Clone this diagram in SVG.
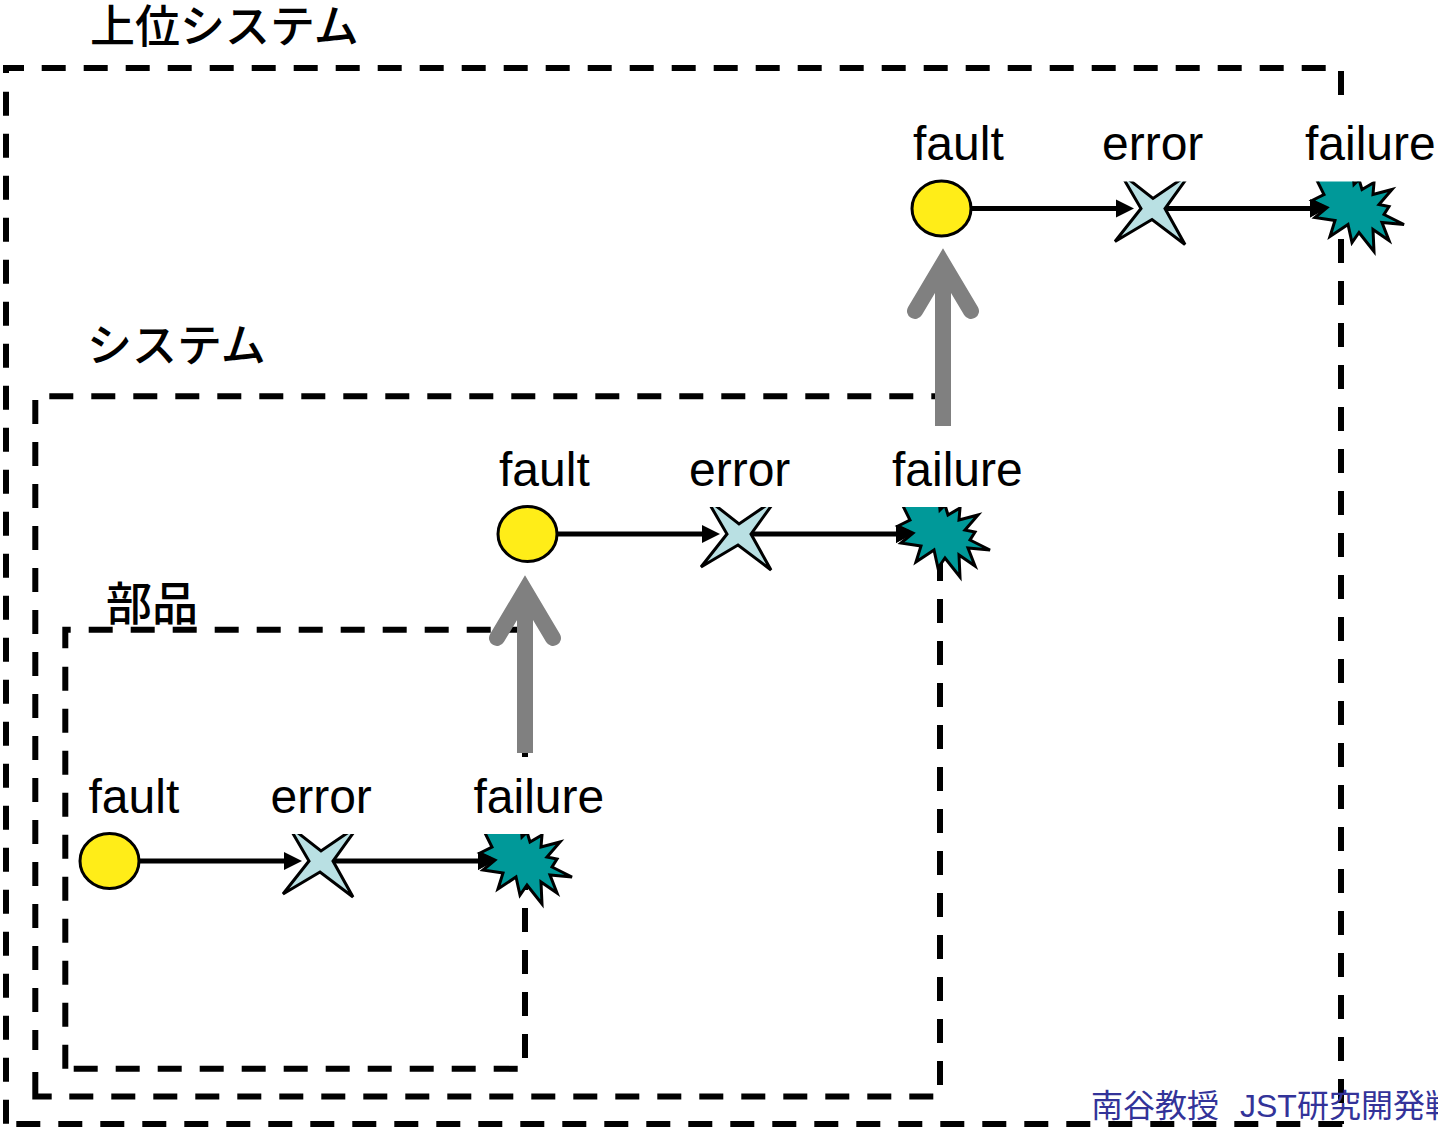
<svg xmlns="http://www.w3.org/2000/svg" width="1438" height="1127" viewBox="0 0 1438 1127">
<style>
.box{fill:none;stroke:#000;stroke-width:6;stroke-dasharray:24 18}
.c{fill:none;stroke:#000;stroke-width:6}
.t{font-family:"Liberation Sans",Arial,sans-serif;font-size:48px;fill:#000}
.j{font-family:"Noto Sans CJK JP",sans-serif;font-size:45px;font-weight:500;fill:#000}
.b{font-family:"Liberation Sans","Noto Sans CJK JP",sans-serif;font-size:32px;fill:#333399}
.ln{fill:none;stroke:#000;stroke-width:5}
.gr{fill:none;stroke:#808080;stroke-width:16;stroke-linecap:round;stroke-linejoin:miter}
.sh{fill:none;stroke:#808080;stroke-width:16}
.o{stroke:#000;stroke-width:3}
</style>
<defs>
<clipPath id="cl"><rect x="60" y="834" width="560" height="90"/></clipPath>
<g id="triple">
<ellipse class="o" cx="109.500" cy="861" rx="29.500" ry="27.500" fill="#ffed18"/>
<path class="ln" d="M139 861H286"/>
<path d="M284 852L302 861L284 870Z"/>
<path class="ln" d="M333 861H480"/>
<path d="M478 852L497 860L478 870Z"/>
<g clip-path="url(#cl)">
<polygon class="o" fill="#b9e0e3" points="288,825 321,851 359,825 333,861 353,897 320,872 283,894 309,861"/>
<polygon class="o" fill="#009999" points="480,853 492,847 484,831 500,825 521,825 522,837 527,832 530,842 542,835 541,847 560,842 547,857 557,859 552,867 572,877 550,875 557,893 541,882 542,904 527,885 520,895 516,877 498,889 503,873 483,870 495,860"/>
</g>
<path d="M478 852L491 857L494 860L478 870Z"/>
</g>
</defs>
<g id="outer-box">
<path class="c" d="M6 73V68H24"/>
<path class="box" d="M41.700 68H1326"/>
<path class="box" d="M6 91.700V1124"/>
<path class="box" d="M16.300 1124H1342.300"/>
<path class="box" d="M1341 71V1124"/>
</g>
<g id="system-box">
<path class="box" d="M49.300 396.300H940"/>
<path class="box" d="M35.300 400V1050"/>
<path class="c" d="M35.300 1072V1096.500H51.700"/>
<path class="box" d="M69.300 1096.500H933.300"/>
<path class="box" d="M940 1085V389"/>
</g>
<g id="part-box">
<path class="c" d="M65.300 648.300V629.700H70.700"/>
<path class="box" d="M88.700 629.700H525"/>
<path class="box" d="M65.300 666.700V1068.700"/>
<path class="box" d="M73.700 1068.800H517.700"/>
<path class="box" d="M525 1058V630"/>
</g>
<g id="label-masks" fill="#fff">
<rect x="1300" y="100" width="138" height="81"/>
<rect x="885" y="427" width="145" height="80"/>
<rect x="468" y="757" width="145" height="77"/>
</g>
<g id="connectors">
<path class="sh" d="M525 753V600"/>
<path class="gr" d="M497 638L525 591L553 638"/>
<path class="sh" d="M943 426V270"/>
<path class="gr" d="M915 311L943 264L971 311"/>
</g>
<g id="row-1"><use href="#triple"/>
<text class="t" x="88.500" y="813">fault</text><text class="t" x="270.500" y="813">error</text><text class="t" x="473.500" y="813">failure</text></g>
<g id="row-2"><use href="#triple" x="418" y="-327"/>
<text class="t" x="499" y="486">fault</text><text class="t" x="689" y="486">error</text><text class="t" x="892" y="486">failure</text></g>
<g id="row-3"><use href="#triple" x="832" y="-652.500"/>
<text class="t" x="913" y="160">fault</text><text class="t" x="1102" y="160">error</text><text class="t" x="1305" y="160">failure</text></g>
<g id="labels">
<text class="j" x="90" y="43">上位システム</text>
<text class="j" x="87" y="362">システム</text>
<text class="j" x="106" y="620" style="font-size:46px">部品</text>
<text class="b" x="1091" y="1117">南谷教授<tspan x="1240">JST研究開発戦</tspan></text>
</g>
</svg>
